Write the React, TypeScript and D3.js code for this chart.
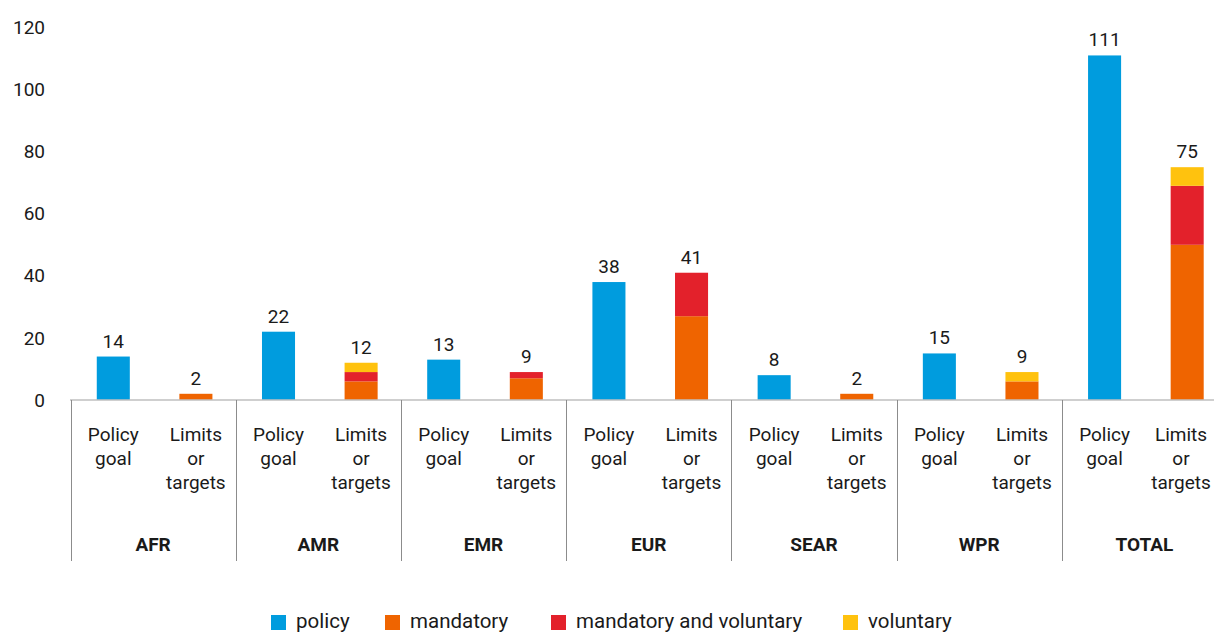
import React from "react";
import * as d3 from "d3";

const regions = ["AFR", "AMR", "EMR", "EUR", "SEAR", "WPR", "TOTAL"];
const subCategories = ["Policy goal", "Limits or targets"];
const subLines: Record<string, string[]> = {
  "Policy goal": ["Policy", "goal"],
  "Limits or targets": ["Limits", "or", "targets"],
};
const policy = [14, 22, 13, 38, 8, 15, 111];
const mandatory = [2, 6, 7, 27, 2, 6, 50];
const mandatoryVoluntary = [0, 3, 2, 14, 0, 0, 19];
const voluntary = [0, 3, 0, 0, 0, 3, 6];
const yTicks = [0, 20, 40, 60, 80, 100, 120];

const seriesKeys = ["mandatory", "mandatoryVoluntary", "voluntary"];
const legendItems = [
  { key: "policy", label: "policy" },
  { key: "mandatory", label: "mandatory" },
  { key: "mandatoryVoluntary", label: "mandatory and voluntary" },
  { key: "voluntary", label: "voluntary" },
];
const colors: Record<string, string> = {
  policy: "#009CDE",
  mandatory: "#EF6400",
  mandatoryVoluntary: "#E3212B",
  voluntary: "#FFC20E",
};
const legendX = [271, 385, 551, 843];

const W = 1214;
const H = 633;
const FONT = "Roboto, 'Noto Sans', sans-serif";

export default function App() {
  const x0 = d3.scaleBand<string>().domain(regions).range([70.5, 1227]).padding(0);
  const x1 = d3
    .scaleBand<string>()
    .domain(subCategories)
    .range([0, x0.bandwidth()])
    .paddingInner(0.6)
    .paddingOuter(0.3)
    .align(0.53);
  const y = d3.scaleLinear().domain([0, 120]).range([400, 27.5]);

  const table = regions.map((r, i) => ({
    region: r,
    mandatory: mandatory[i],
    mandatoryVoluntary: mandatoryVoluntary[i],
    voluntary: voluntary[i],
  }));
  const stacked = d3.stack<any>().keys(seriesKeys)(table);
  const limitsTotals = regions.map((_, i) => mandatory[i] + mandatoryVoluntary[i] + voluntary[i]);

  const bw = x1.bandwidth();
  const axisY = y(0);
  const cx = (r: string, sc: string) => (x0(r) as number) + (x1(sc) as number) + bw / 2;
  // keep category labels inside the canvas (like the original, which nudges the last one in)
  const labelX = (r: string, sc: string) => Math.min(cx(r, sc), W - 33);

  return (
    <svg
      width={W}
      height={H}
      style={{ position: "absolute", left: 0, top: 0, background: "#fff" }}
      fontFamily={FONT}
    >
      {/* y tick labels */}
      {yTicks.map((t) => (
        <text key={t} x={45} y={y(t)} dy="0.35em" textAnchor="end" fontSize={19} fill="#1a1a1a">
          {t}
        </text>
      ))}

      {/* policy bars */}
      {regions.map((r, i) => (
        <rect
          key={"p" + r}
          x={(x0(r) as number) + (x1("Policy goal") as number)}
          y={y(policy[i])}
          width={bw}
          height={axisY - y(policy[i])}
          fill={colors.policy}
        />
      ))}
      {/* stacked limits bars */}
      {stacked.map((s) =>
        s.map((d, i) =>
          d[1] - d[0] > 0 ? (
            <rect
              key={s.key + i}
              x={(x0(regions[i]) as number) + (x1("Limits or targets") as number)}
              y={y(d[1])}
              width={bw}
              height={y(d[0]) - y(d[1])}
              fill={colors[s.key]}
            />
          ) : null
        )
      )}

      {/* value labels */}
      {regions.map((r, i) => (
        <g key={"v" + r}>
          <text x={cx(r, "Policy goal")} y={y(policy[i]) - 9} textAnchor="middle" fontSize={19} fill="#1a1a1a">
            {policy[i]}
          </text>
          <text
            x={cx(r, "Limits or targets")}
            y={y(limitsTotals[i]) - 9}
            textAnchor="middle"
            fontSize={19}
            fill="#1a1a1a"
          >
            {limitsTotals[i]}
          </text>
        </g>
      ))}

      {/* axis line */}
      <line x1={70} x2={W} y1={axisY} y2={axisY} stroke="#BFBFBF" strokeWidth={1.5} />
      {/* group dividers */}
      {regions.map((r) => (
        <line
          key={"d" + r}
          x1={Math.round(x0(r) as number) + 0.5}
          x2={Math.round(x0(r) as number) + 0.5}
          y1={axisY}
          y2={561}
          stroke="#8C8C8C"
          strokeWidth={1}
        />
      ))}

      {/* sub category labels */}
      {regions.map((r) =>
        subCategories.map((sc) => (
          <text key={r + sc} x={labelX(r, sc)} textAnchor="middle" fontSize={19} fill="#1a1a1a">
            {subLines[sc].map((ln, k) => (
              <tspan key={k} x={labelX(r, sc)} y={441 + k * 23.8}>
                {ln}
              </tspan>
            ))}
          </text>
        ))
      )}

      {/* region labels */}
      {regions.map((r) => (
        <text
          key={"r" + r}
          x={(x0(r) as number) + x0.bandwidth() / 2}
          y={551}
          textAnchor="middle"
          fontSize={19}
          fontWeight="bold"
          fill="#1a1a1a"
        >
          {r}
        </text>
      ))}

      {/* legend */}
      {legendItems.map((it, i) => (
        <g key={it.key}>
          <rect x={legendX[i]} y={615} width={15} height={15} fill={colors[it.key]} />
          <text x={legendX[i] + 25} y={627.5} fontSize={20.5} fill="#1a1a1a">
            {it.label}
          </text>
        </g>
      ))}
    </svg>
  );
}
